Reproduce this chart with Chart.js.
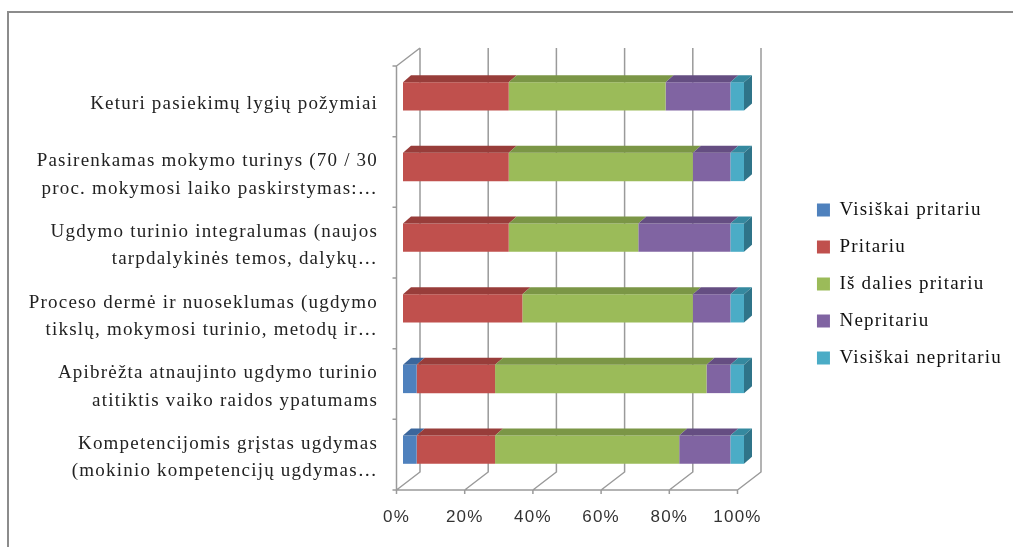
<!DOCTYPE html>
<html>
<head>
<meta charset="utf-8">
<script src="https://cdn.jsdelivr.net/npm/chart.js@4/dist/chart.umd.min.js"></script>
<style>
    html, body { margin: 0; padding: 0; background: #fff; }
    #wrap { position: relative; width: 1013px; height: 547px; overflow: hidden; }
    #frame { position: absolute; left: 7px; top: 11px; right: -5px; bottom: -5px;
             border-left: 2px solid #8c8c8c; border-top: 2px solid #8c8c8c; }
    canvas { position: absolute; left: 0; top: 0; }
</style>
</head>
<body>
<div id="wrap">
    <div id="frame"></div>
    <canvas id="chart" width="1013" height="547"></canvas>
</div>
<script>
// kategorijos (iš viršaus į apačią)
const categories = [
    'Keturi pasiekimų lygių požymiai',
    ['Pasirenkamas mokymo turinys (70 / 30', 'proc. mokymosi laiko paskirstymas:…'],
    ['Ugdymo turinio integralumas (naujos', 'tarpdalykinės temos, dalykų…'],
    ['Proceso dermė ir nuoseklumas (ugdymo', 'tikslų, mokymosi turinio, metodų ir…'],
    ['Apibrėžta atnaujinto ugdymo turinio', 'atitiktis vaiko raidos ypatumams'],
    ['Kompetencijomis grįstas ugdymas', '(mokinio kompetencijų ugdymas…']
];

const seriesNames = ['Visiškai pritariu', 'Pritariu', 'Iš dalies pritariu', 'Nepritariu', 'Visiškai nepritariu'];

// procentai
const visiskaiPritariu   = [0, 0, 0, 0, 4, 4];
const pritariu           = [31, 31, 31, 35, 23, 23];
const isDaliesPritariu   = [46, 54, 38, 50, 62, 54];
const nepritariu         = [19, 11, 27, 11, 7, 15];
const visiskaiNepritariu = [4, 4, 4, 4, 4, 4];

const xTicks = [0, 20, 40, 60, 80, 100];

const frontColors = ['#4F81BD', '#C0504D', '#9BBB59', '#8064A2', '#4BACC6'];
const topColors   = ['#3b669c', '#983d3a', '#7b9646', '#654e82', '#35899f'];
const sideColor   = '#2f7489';

const serifFont = '"Liberation Serif", "Times New Roman", serif';
const sansFont  = '"Liberation Sans", Arial, sans-serif';
const spacing = '1.2px';
const legendFontSize = 19;
const legendPad = 18;
const legendBox = 13;
const rightPad = 1;
const plotRight = 744;

// Excel tekstas atrodo praretintas
const letterSpacing = {
    id: 'letterSpacing',
    beforeUpdate(chart) { chart.ctx.letterSpacing = spacing; },
    beforeDraw(chart) { chart.ctx.letterSpacing = spacing; }
};

// tarpas tarp braižymo srities ir legendos, kad sritis baigtųsi ties plotRight
function fitGap(scale) {
    const c = scale.ctx;
    c.save();
    c.font = `normal ${legendFontSize}px ${serifFont}`;
    c.letterSpacing = spacing;
    const maxText = Math.max(...seriesNames.map(n => c.measureText(n).width));
    c.restore();
    // legenda dar prideda ~10 px iš dešinės
    const legendWidth = legendPad + legendBox + legendFontSize / 2 + maxText + 10;
    scale.width = scale.chart.width - rightPad - plotRight - legendWidth;
}

// 3D efektas: sienos, grindys, viršutinės ir šoninės briaunos
const depth3d = {
    id: 'depth3d',
    beforeDatasetsDraw(chart) {
        const { ctx, chartArea: a, scales: { x, y } } = chart;
        const fx = v => x.getPixelForValue(v) - 6.5;
        const bx = v => x.getPixelForValue(v) + 17;
        const fTop = a.top + 5, fBot = a.bottom + 5;
        const bTop = a.top - 13, bBot = a.bottom - 13;
        const half = (y.getPixelForValue(1) - y.getPixelForValue(0)) / 2;

        ctx.save();
        ctx.strokeStyle = '#9a9a9a';
        ctx.lineWidth = 1.5;
        ctx.beginPath();
        xTicks.forEach(v => {
            ctx.moveTo(bx(v), bTop);
            ctx.lineTo(bx(v), bBot);
            ctx.lineTo(fx(v), fBot);
            ctx.lineTo(fx(v), fBot + 4);
        });
        ctx.moveTo(fx(0), fBot);
        ctx.lineTo(fx(100), fBot);
        ctx.moveTo(fx(0), fBot);
        ctx.lineTo(fx(0), fTop);
        ctx.lineTo(bx(0), bTop);
        for (let i = 0; i <= categories.length; i++) {
            const yy = (i < categories.length ? y.getPixelForValue(i) - half : y.getPixelForValue(i - 1) + half) + 5;
            ctx.moveTo(fx(0) - 4, yy);
            ctx.lineTo(fx(0), yy);
        }
        ctx.stroke();
        ctx.restore();
    },
    afterDatasetsDraw(chart) {
        const { ctx } = chart;
        const dx = 8, dy = 7;
        const lastEls = [];
        ctx.save();
        chart.data.datasets.forEach((ds, di) => {
            const meta = chart.getDatasetMeta(di);
            meta.data.forEach((bar, i) => {
                if (!ds.data[i]) return;
                const l = Math.min(bar.base, bar.x), r = Math.max(bar.base, bar.x);
                const t = bar.y - bar.height / 2;
                ctx.fillStyle = topColors[di];
                ctx.beginPath();
                ctx.moveTo(l, t);
                ctx.lineTo(r, t);
                ctx.lineTo(r + dx, t - dy);
                ctx.lineTo(l + dx, t - dy);
                ctx.closePath();
                ctx.fill();
                lastEls[i] = bar;
            });
        });
        ctx.fillStyle = sideColor;
        lastEls.forEach(bar => {
            const r = Math.max(bar.base, bar.x);
            const t = bar.y - bar.height / 2, b = bar.y + bar.height / 2;
            ctx.beginPath();
            ctx.moveTo(r, t);
            ctx.lineTo(r + dx, t - dy);
            ctx.lineTo(r + dx, b - dy);
            ctx.lineTo(r, b);
            ctx.closePath();
            ctx.fill();
        });
        ctx.restore();
    }
};

const seriesData = [visiskaiPritariu, pritariu, isDaliesPritariu, nepritariu, visiskaiNepritariu];

new Chart(document.getElementById('chart'), {
    type: 'bar',
    data: {
        labels: categories,
        datasets: seriesNames.map((name, i) => ({
            label: name,
            data: seriesData[i],
            backgroundColor: frontColors[i],
            borderWidth: 0,
            categoryPercentage: 1,
            barPercentage: 0.4
        }))
    },
    options: {
        indexAxis: 'y',
        responsive: false,
        animation: false,
        layout: { padding: { top: 21, left: 0, right: rightPad, bottom: 0 } },
        scales: {
            x: {
                stacked: true,
                min: 0,
                max: 100,
                grid: { display: false, drawTicks: false },
                border: { display: false },
                ticks: {
                    stepSize: 20,
                    padding: 22,
                    labelOffset: -6.5,
                    color: '#333',
                    font: { family: sansFont, size: 17 },
                    callback: v => v + '%'
                },
                afterFit: s => { s.height = 62; }
            },
            y: {
                stacked: true,
                grid: { display: false, drawTicks: false },
                border: { display: false },
                ticks: {
                    autoSkip: false,
                    padding: 25,
                    labelOffset: 8,
                    color: '#222',
                    font: { family: serifFont, size: 19, lineHeight: 1.45 }
                },
                afterFit: s => { s.width = 403; }
            },
            gap: {
                type: 'linear',
                position: 'right',
                grid: { display: false, drawTicks: false },
                border: { display: false },
                ticks: { display: false },
                afterFit: fitGap
            }
        },
        plugins: {
            title: {
                display: true,
                text: ' ',
                fullSize: false,
                font: { size: 10, lineHeight: 1 },
                padding: { top: 0, bottom: 30 }
            },
            legend: {
                position: 'right',
                maxWidth: 400,
                labels: {
                    boxWidth: legendBox,
                    boxHeight: legendBox,
                    padding: legendPad,
                    color: '#111',
                    font: { family: serifFont, size: legendFontSize }
                }
            },
            tooltip: { enabled: false }
        }
    },
    plugins: [letterSpacing, depth3d]
});
</script>
</body>
</html>
